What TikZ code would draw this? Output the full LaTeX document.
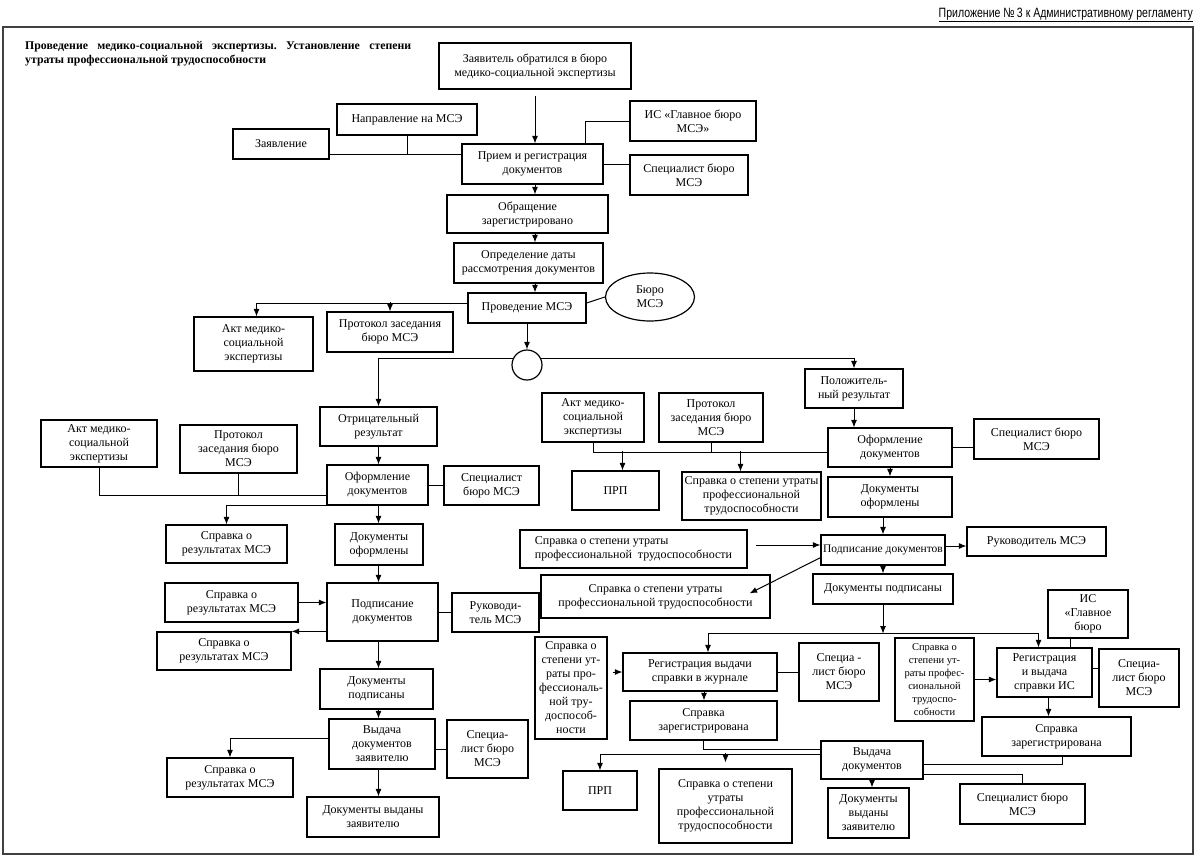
\documentclass[tikz,border=0pt]{standalone}
\usepackage{fontspec}
\setmainfont{Liberation Serif}
\newfontfamily\hdrfont[FakeStretch=0.78]{Liberation Sans}
\usetikzlibrary{calc,arrows.meta,shapes.geometric}
\frenchspacing
\tikzset{
	>={Latex[length=7.5pt,width=6pt]},
	blok/.style={
		rectangle,
		draw=black, line width=1.2pt,
		inner sep=1.5pt,
		align=center,
		font=\fontsize{12}{14}\selectfont},
	sz/.style 2 args={minimum width=#1, minimum height=#2},
	line/.style={draw, line width=1pt},
	arr/.style={line, ->},
}

\begin{document}
\begin{tikzpicture}[x=1pt, y=-1pt]
\useasboundingbox (0,0) rectangle (1200,860);
\draw[line width=1.2pt, black!75] (3,27) rectangle (1193,854);
\node[anchor=base east, inner sep=0pt, font=\hdrfont\fontsize{13.5}{15}\selectfont] (prilozh) at (1193,17) {\underline{Приложение №\,3 к Административному регламенту}};
\node[anchor=north west, text width=386pt, align=justify, inner sep=0pt, font=\bfseries\fontsize{11.8}{14}\selectfont] (titul) at (25,41) {Проведение медико-социальной экспертизы. Установление степени\linebreak утраты профессиональной трудоспособности};

\node[blok, sz={192}{46}] (zayav) at (535,66) {Заявитель обратился в бюро\\медико-социальной экспертизы};
\node[blok, sz={140}{31}] (napr) at (407,119.5) {Направление на МСЭ};
\node[blok, sz={96}{30}] (zayavl) at (281,144) {Заявление};
\node[blok, sz={141}{40}] (priem) at (532.5,164) {Прием и регистрация\\документов};
\node[blok, sz={126}{40}] (isgl) at (693,121) {ИС «Главное бюро\\МСЭ»};
\node[blok, sz={118}{40}] (spec1) at (689,175) {Специалист бюро\\МСЭ};
\node[blok, sz={161}{38}] (obr) at (527.5,214) {Обращение\\зарегистрировано};
\node[blok, sz={149}{40}] (opred) at (528.5,263) {Определение даты\\рассмотрения документов};
\node[blok, sz={118}{30}] (prov) at (527,308) {Проведение МСЭ};
\node[blok, ellipse, sz={89}{48}] (buro) at (650,297) {Бюро\\МСЭ};
\node[blok, circle, minimum size=30] (razv) at (527,365) {};
\node[blok, sz={119}{54}] (akt1) at (253.5,344) {Акт медико-\\социальной\\экспертизы};
\node[blok, sz={126}{40}] (prot1) at (390,332) {Протокол заседания\\бюро МСЭ};

\node[blok, sz={117}{39}] (otric) at (378.5,426.5) {Отрицательный\\результат};
\node[blok, sz={101}{40}] (ofor1) at (377.5,485) {Оформление\\документов};
\node[blok, sz={95}{39}] (spec2) at (491.5,485.5) {Специалист\\бюро МСЭ};
\node[blok, sz={116}{47}] (akt2) at (99,443.5) {Акт медико-\\социальной\\экспертизы};
\node[blok, sz={117}{48}] (prot2) at (238.5,449) {Протокол\\заседания бюро\\МСЭ};
\node[blok, sz={121}{38}] (sprav1) at (226.5,544) {Справка о\\результатах МСЭ};
\node[blok, sz={88}{41}] (dokof1) at (379,544.5) {Документы\\оформлены};
\node[blok, sz={111}{58}] (podp1) at (382.5,612) {Подписание\\документов};
\node[blok, sz={133}{39}] (sprav2) at (231.5,602.5) {Справка о\\результатах МСЭ};
\node[blok, sz={134}{38}] (sprav3) at (224,651) {Справка о\\результатах МСЭ};
\node[blok, sz={87}{39}] (ruk1) at (495.5,612.5) {Руководи-\\тель МСЭ};
\node[blok, sz={113}{40}] (dokpod1) at (376.5,689) {Документы\\подписаны};
\node[blok, sz={106}{50}] (vyd1) at (382,744) {Выдача\\документов\\заявителю};
\node[blok, sz={81}{58}] (spec3) at (487.5,749) {Специа-\\лист бюро\\МСЭ};
\node[blok, sz={126}{39}] (sprav4) at (230,777.5) {Справка о\\результатах МСЭ};
\node[blok, sz={132}{40}] (dokvyd1) at (373,817) {Документы выданы\\заявителю};

\node[blok, sz={98}{39}] (polozh) at (854,388.5) {Положитель-\\ный результат};
\node[blok, sz={102}{49}] (akt3) at (593,417.5) {Акт медико-\\социальной\\экспертизы};
\node[blok, sz={104}{49}] (prot3) at (711,417.5) {Протокол\\заседания бюро\\МСЭ};
\node[blok, sz={124}{39}] (ofor2) at (890,447.5) {Оформление\\документов};
\node[blok, sz={125}{40}] (spec4) at (1036.5,439) {Специалист бюро\\МСЭ};
\node[blok, sz={87}{39}] (prp1) at (615.5,490.5) {ПРП};
\node[blok, sz={139}{48}] (sprav5) at (751.5,496) {Справка о степени утраты\\профессиональной\\трудоспособности};
\node[blok, sz={124}{40}] (dokof2) at (890,497) {Документы\\оформлены};
\node[blok, sz={124}{30}, font=\fontsize{11.5}{14}\selectfont] (podp2) at (883,550) {Подписание документов};
\node[blok, sz={139}{29}] (ruk2) at (1036.5,541.5) {Руководитель МСЭ};
\node[blok, sz={227}{38}, align=left] (sprav6) at (633.5,549) {Справка о степени утраты\\профессиональной\enspace трудоспособности};
\node[blok, sz={229}{43}] (sprav7) at (655.5,596.5) {Справка о степени утраты\\профессиональной трудоспособности};
\node[blok, sz={140}{30}] (dokpod2) at (883,589) {Документы подписаны};
\node[blok, sz={72}{102}] (sprav8) at (571,688) {Справка о\\степени ут-\\раты про-\\фессиональ-\\ной тру-\\доспособ-\\ности};
\node[blok, sz={154}{38}] (reg1) at (700,672) {Регистрация выдачи\\справки в журнале};
\node[blok, sz={80}{58}] (spec5) at (839,672) {Специа -\\лист бюро\\МСЭ};
\node[blok, sz={79}{83}, font=\fontsize{10.5}{13}\selectfont] (sprav9) at (934.5,679.5) {Справка о\\степени ут-\\раты профес-\\сиональной\\трудоспо-\\собности};
\node[blok, sz={95}{49}] (reg2) at (1044.5,672.5) {Регистрация\\и выдача\\справки ИС};
\node[blok, sz={80}{48}] (isgl2) at (1088,614) {ИС\\«Главное\\бюро};
\node[blok, sz={80}{58}] (spec6) at (1139,678) {Специа-\\лист бюро\\МСЭ};
\node[blok, sz={147}{39}] (spreg1) at (703.5,720.5) {Справка\\зарегистрирована};
\node[blok, sz={149}{39}] (spreg2) at (1056.5,736.5) {Справка\\зарегистрирована};
\node[blok, sz={102}{38}] (vyd2) at (872,760) {Выдача\\документов};
\node[blok, sz={74}{39}] (prp2) at (600,790.5) {ПРП};
\node[blok, sz={133}{74}] (sprav10) at (725.5,806) {Справка о степени\\утраты\\профессиональной\\трудоспособности};
\node[blok, sz={81}{50}] (dokvyd2) at (868.5,813) {Документы\\выданы\\заявителю};
\node[blok, sz={125}{40}] (spec7) at (1022.5,804) {Специалист бюро\\МСЭ};

\draw[arr, shorten <=6pt] (zayav.south) -- (zayav.south |- priem.north);
\draw[line] ([yshift=-10pt]zayavl.east) -- ([yshift=10pt]priem.west);
\draw[line] (napr.south) -- ++(0,19);
\draw[line] (isgl.west) -| ([xshift=-18pt]priem.north east);
\draw[line] (priem.east) -- (priem.east -| spec1.west);
\draw[arr] (priem.south -| zayav.south) -- (obr.north -| zayav.south);
\draw[arr] (obr.south -| zayav.south) -- (opred.north -| zayav.south);
\draw[arr] (opred.south -| zayav.south) -- (prov.north -| zayav.south);
\draw[line] ([yshift=5pt]prov.east) -- (buro.west);
\draw[arr] ([yshift=5pt]prov.west) -| ([xshift=3pt]akt1.north);
\draw[arr] ([yshift=9pt]prot1.north) -- (prot1.north);
\draw[arr] (prov.south) -- (razv.north);
\draw[arr] (razv.155) -| (otric.north);
\draw[arr] (razv.25) -| (polozh.north);

\draw[arr] (otric.south) -- (otric.south |- ofor1.north);
\draw[line] (ofor1.east) -- (ofor1.east -| spec2.west);
\draw[line] (akt2.south) |- ([yshift=-10pt]ofor1.west);
\draw[line] (prot2.south) -- ++(0,22);
\draw[arr] (ofor1.south west) -| (sprav1.north);
\draw[arr] (otric.south |- ofor1.south) -- (otric.south |- dokof1.north);
\draw[arr] (otric.south |- dokof1.south) -- (otric.south |- podp1.north);
\draw[arr] (sprav2.east) -- (sprav2.east -| podp1.west);
\draw[arr] (podp1.west |- sprav3.north) -- (sprav3.north east);
\draw[line] (podp1.east) -- (podp1.east -| ruk1.west);
\draw[arr] (otric.south |- podp1.south) -- (otric.south |- dokpod1.north);
\draw[arr] (otric.south |- dokpod1.south) -- (otric.south |- vyd1.north);
\draw[line] (spec3.west -| vyd1.east) -- (spec3.west);
\draw[arr] ([yshift=6pt]vyd1.west) -| (sprav4.north);
\draw[arr] (otric.south |- vyd1.south) -- (otric.south |- dokvyd1.north);

\draw[arr] (polozh.south) -- (polozh.south |- ofor2.north);
\draw[line] (ofor2.east) -- (ofor2.east -| spec4.west);
\draw[line] (akt3.south) |- ([yshift=-4.5pt]ofor2.west);
\draw[line] (prot3.south) -- ++(0,10);
\draw[arr] ([xshift=7pt, yshift=19pt]prp1.north) -- ([xshift=7pt]prp1.north);
\draw[arr] ([xshift=-11pt, yshift=20pt]sprav5.north) -- ([xshift=-11pt]sprav5.north);
\draw[arr] (ofor2.south) -- (dokof2.north);
\draw[arr] (podp2.north |- dokof2.south) -- (podp2.north);
\draw[arr] ([yshift=4pt]podp2.east) -- ([yshift=4pt]podp2.east -| ruk2.west);
\draw[arr, shorten <=8pt] ([yshift=4pt]sprav6.east) -- ([yshift=4pt]sprav6.east -| podp2.west);
\draw[arr] ([yshift=8pt]podp2.south west) -- ($(sprav7.north east)+(-21,19)$);
\draw[arr] (podp2.south) -- (dokpod2.north);
\coordinate (razvil) at ([yshift=-29pt]dokpod2.south);
\draw[arr] (dokpod2.south) -- (razvil);
\draw[arr] (razvil) -| ([xshift=8pt]reg1.north);
\draw[arr] (razvil) -| ([xshift=-6pt]reg2.north);
\draw[arr, shorten <=5pt] (reg1.west -| sprav8.east) -- (reg1.west);
\draw[line] (reg1.east) -- (spec5.west);
\draw[arr] ([xshift=4pt]reg1.south) -- ([xshift=4pt]reg1.south |- spreg1.north);
\draw[arr] (sprav9.east) -- (sprav9.east -| reg2.west);
\draw[line] ([xshift=-18pt]isgl2.south) -- ++(0,10);
\draw[line] ([yshift=4pt]reg2.east) -- ([yshift=4pt]reg2.east -| spec6.west);
\draw[arr] ([xshift=4pt]reg2.south) -- ([xshift=4pt]reg2.south |- spreg2.north);
\draw[line] (spreg1.south) |- ([yshift=11pt]vyd2.west);
\draw[line] ([xshift=6pt]spreg2.south) |- ([yshift=-4pt]vyd2.east);
\draw[arr] ([yshift=6pt]vyd2.west) -| (prp2.north);
\draw[arr] ([yshift=15pt]sprav10.north) -- ([yshift=6pt]sprav10.north);
\draw[arr] (vyd2.south) -- (vyd2.south |- dokvyd2.north);
\draw[line] ([yshift=-14pt]vyd2.east) -| (spec7.north);
\end{tikzpicture}
\end{document}
